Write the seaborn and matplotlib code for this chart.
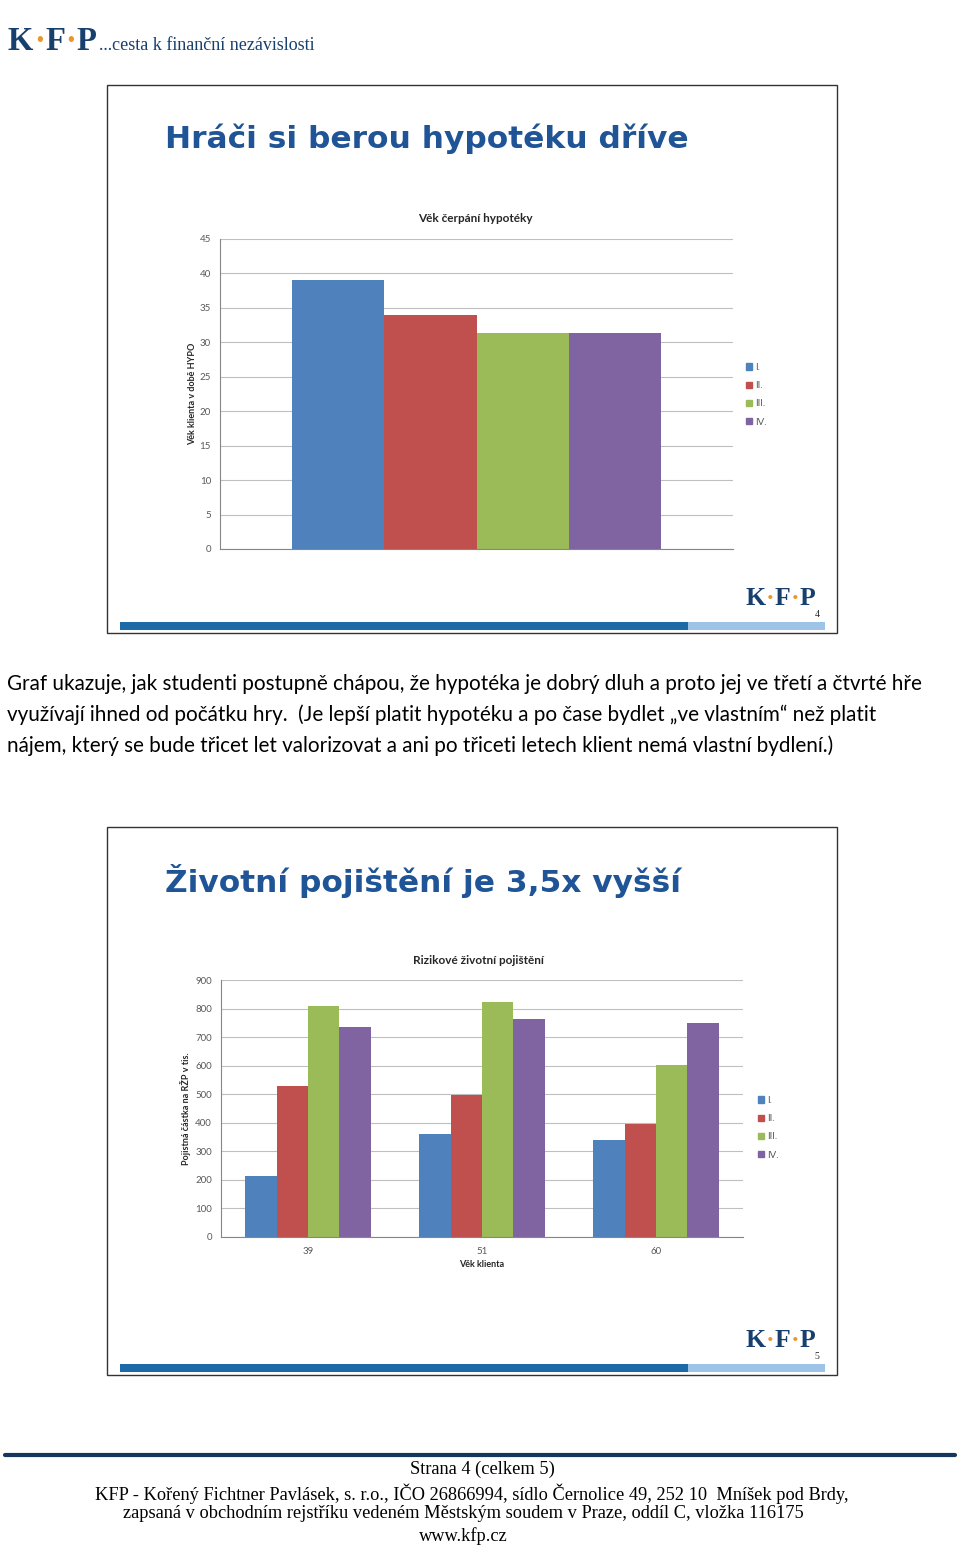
import numpy as np
import pandas as pd
import matplotlib
matplotlib.use('Agg')
import matplotlib.pyplot as plt
import seaborn as sns
from matplotlib.patches import Rectangle, Patch
from matplotlib.lines import Line2D

# data
kola = ['I.', 'II.', 'III.', 'IV.']
barvy = ['#4F81BD', '#C0504D', '#9BBB59', '#8064A2']
vek_cerpani = [39.0, 33.9, 31.3, 31.4]

vek_klienta = ['39', '51', '60']
rzp_I = [212, 360, 340]
rzp_II = [529, 499, 397]
rzp_III = [810, 822, 604]
rzp_IV = [736, 762, 748]

df1 = pd.DataFrame({'x': [''] * 4, 'kolo': kola, 'vek': vek_cerpani})
df2 = pd.DataFrame({
    'vek_klienta': vek_klienta * 4,
    'kolo': [k for k in kola for _ in vek_klienta],
    'castka': rzp_I + rzp_II + rzp_III + rzp_IV,
})

sns.set_style('white')
plt.rcParams['font.family'] = ['Lato', 'DejaVu Sans']

W, H = 960, 1548
fig = plt.figure(figsize=(W / 100, H / 100), dpi=100)
fig.patch.set_facecolor('white')
renderer = fig.canvas.get_renderer()

def fx(x):
    return x / W

def fy(y):
    return 1 - y / H

def box(x0, y0, x1, y1):
    return [fx(x0), fy(y1), (x1 - x0) / W, (y1 - y0) / H]

navy = '#17406F'
orange = '#E8962E'
title_blue = '#1F5496'
grey = '#595959'
serif = ['Liberation Serif', 'DejaVu Serif']


def logo(x, y, size):
    # K·F·P logo, x = left, y = baseline in px; next letter placed right after the previous one
    parts = [('K', navy), ('·', orange), ('F', navy), ('·', orange), ('P', navy)]
    cx = x
    for ch, col in parts:
        t = fig.text(fx(cx), fy(y), ch, color=col, fontsize=size, family=serif,
                     fontweight='bold', va='baseline', ha='left')
        ext = t.get_window_extent(renderer)
        cx = ext.x1 + 0.5
    return cx


# header
end = logo(8, 50, 23.5)
fig.text(fx(max(end + 2, 99)), fy(50), '...cesta k finanční nezávislosti', color=navy,
         fontsize=13, family=serif, va='baseline', ha='left')


def slide(top, title, num):
    left, right, bottom = 107, 837, top + 548
    fig.patches.append(Rectangle((fx(left), fy(bottom)), (right - left) / W, (bottom - top) / H,
                                 transform=fig.transFigure, fill=False, edgecolor='#333333', lw=1.0))
    fig.text(fx(165), fy(top + 54), title, color=title_blue, fontsize=22.5,
             fontweight='bold', family=['DejaVu Sans'], va='center', ha='left')
    fig.patches.append(Rectangle((fx(120), fy(top + 545)), (688 - 120) / W, 8 / H,
                                 transform=fig.transFigure, color='#1C6BA8', lw=0))
    fig.patches.append(Rectangle((fx(688), fy(top + 545)), (825 - 688) / W, 8 / H,
                                 transform=fig.transFigure, color='#9DC3E6', lw=0))
    logo(745, top + 520, 18.5)
    fig.text(fx(817), fy(top + 532), num, fontsize=7, family=serif, va='baseline', ha='center')


def style_axes(ax, top_val, step):
    ax.set_ylim(0, top_val)
    ax.set_yticks(np.arange(0, top_val + 1, step))
    ax.yaxis.grid(True, color='#BFBFBF', lw=0.8)
    ax.set_axisbelow(True)
    for s in ['top', 'right']:
        ax.spines[s].set_visible(False)
    for s in ['left', 'bottom']:
        ax.spines[s].set_color('#868686')
        ax.spines[s].set_linewidth(0.8)
    ax.tick_params(axis='y', length=4, color='#868686', labelsize=7, labelcolor=grey, pad=2.5)


def legend(ax, x, y):
    handles = [Patch(color=c, label=k) for k, c in zip(kola, barvy)]
    ax.legend(handles=handles, loc='upper left', bbox_to_anchor=(fx(x), fy(y)),
              bbox_transform=fig.transFigure, frameon=False, fontsize=7,
              labelcolor=grey, handlelength=0.6, handleheight=0.6,
              handletextpad=0.3, labelspacing=0.95, borderaxespad=0, borderpad=0)


# slide 1
slide(85, 'Hráči si berou hypotéku dříve', '4')
fig.text(fx(475), fy(218), 'Věk čerpání hypotéky', fontsize=8.5, fontweight='bold',
         ha='center', va='center', color='#262626')
ax1 = fig.add_axes(box(220, 239, 733, 549))
sns.barplot(data=df1, x='x', y='vek', hue='kolo', palette=barvy, width=0.72, gap=0,
            linewidth=0, saturation=1, legend=False, ax=ax1)
ax1.set_xlim(-0.5, 0.5)
style_axes(ax1, 45, 5)
ax1.set_xticks([])
ax1.set_xlabel('')
ax1.set_ylabel('Věk klienta v době HYPO', fontsize=6.5, fontweight='bold', color='#262626')
ax1.yaxis.set_label_coords(-0.044, 0.5)
legend(ax1, 746, 363)

# text between slides
para = [
    'Graf ukazuje, jak studenti postupně chápou, že hypotéka je dobrý dluh a proto jej ve třetí a čtvrté hře',
    'využívají ihned od počátku hry.  (Je lepší platit hypotéku a po čase bydlet „ve vlastním“ než platit',
    'nájem, který se bude třicet let valorizovat a ani po třiceti letech klient nemá vlastní bydlení.)',
]
for i, line in enumerate(para):
    fig.text(fx(7), fy(684 + 31 * i), line, fontsize=14.9, ha='left', va='center', color='black')

# slide 2
slide(827, 'Životní pojištění je 3,5x vyšší', '5')
fig.text(fx(478), fy(960), 'Rizikové životní pojištění', fontsize=8.5, fontweight='bold',
         ha='center', va='center', color='#262626')
ax2 = fig.add_axes(box(221, 980, 743, 1237))
sns.barplot(data=df2, x='vek_klienta', y='castka', hue='kolo', palette=barvy, width=0.72,
            gap=0, linewidth=0, saturation=1, legend=False, ax=ax2)
ax2.set_xlim(-0.5, 2.5)
style_axes(ax2, 900, 100)
ax2.tick_params(axis='x', length=0, labelsize=7, labelcolor=grey, pad=7)
ax2.set_xticks([-0.5, 0.5, 1.5, 2.5], minor=True)
ax2.tick_params(axis='x', which='minor', length=4, color='#868686')
ax2.set_xlabel('Věk klienta', fontsize=6.5, fontweight='bold', color='#262626')
ax2.xaxis.set_label_coords(0.5, -0.09)
ax2.set_ylabel('Pojistná částka na RŽP v tis.', fontsize=6.5, fontweight='bold', color='#262626')
ax2.yaxis.set_label_coords(-0.057, 0.5)
legend(ax2, 758, 1096)

# footer
fig.add_artist(Line2D([fx(5), fx(955)], [fy(1455), fy(1455)], transform=fig.transFigure,
                      color='#17365D', lw=3))
footer = [
    ('Strana 4 (celkem 5)', 482, 1469),
    ('KFP - Kořený Fichtner Pavlásek, s. r.o., IČO 26866994, sídlo Černolice 49, 252 10  Mníšek pod Brdy,', 472, 1494),
    ('zapsaná v obchodním rejstříku vedeném Městským soudem v Praze, oddíl C, vložka 116175', 463, 1514),
    ('www.kfp.cz', 463, 1536),
]
for txt, x, y in footer:
    fig.text(fx(x), fy(y), txt, fontsize=13.2, family=serif, ha='center', va='center', color='black')

fig.savefig('out.png', dpi=100)
